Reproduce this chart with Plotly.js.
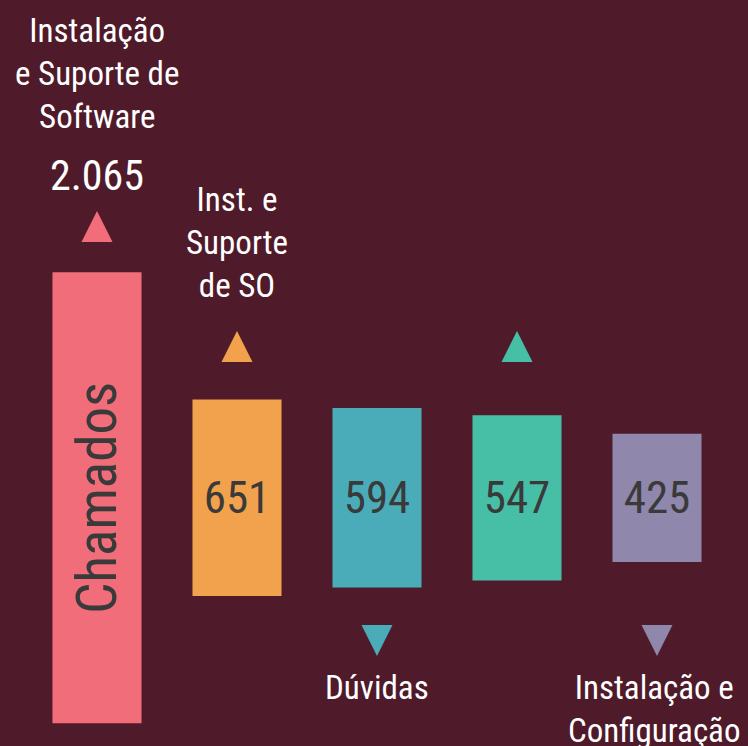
<!DOCTYPE html>
<html><head><meta charset="utf-8">
<script src="https://cdn.plot.ly/plotly-3.0.1.min.js"></script>
<style>html,body{margin:0;padding:0;background:#4f1a29}</style></head>
<body><div id="chart" style="width:748px;height:746px"></div>
<script>
// ---- data ----
const categories = ['Instalação e Suporte de Software', 'Inst. e Suporte de SO', 'Dúvidas', '', 'Instalação e Configuração'];
const labels = ['Instalação<br>e Suporte de<br>Software', 'Inst. e<br>Suporte<br>de SO', 'Dúvidas', '', 'Instalação e<br>Configuração'];
const values = [2065, 651, 594, 547, 425];
const barTexts = ['Chamados', '651', '594', '547', '425'];
const totalLabel = '2.065';
const directions = ['up', 'up', 'down', 'up', 'down'];
const colors = ['#f16d79', '#f2a24d', '#4aacb9', '#47bfa7', '#8f87ac'];

// ---- layout constants (pixels) ----
const W = 748, H = 746;
const CENTER_PX = 497.8;           // vertical centre of all bars
const PX_PER_UNIT = 0.302;          // scale of the small bars
const PX_PER_UNIT_MAIN = 451 / 2065; // scale of the big first bar
const FONT = '"Roboto Condensed", Roboto, sans-serif';
const TXT = '#ffffff', DARK = '#3a3a3a';

const yRange = [-(H - CENTER_PX) / PX_PER_UNIT, CENTER_PX / PX_PER_UNIT];
const y2Range = [-(H - CENTER_PX) / PX_PER_UNIT_MAIN, CENTER_PX / PX_PER_UNIT_MAIN];
const pxToY = px => (CENTER_PX - px) / PX_PER_UNIT;
const pxToPaper = px => 1 - px / H;

const idx = values.map((_, i) => i);

const bigBar = {
  type: 'bar', x: [0], y: [values[0]], base: [-values[0] / 2], yaxis: 'y2',
  width: 0.636, marker: {color: colors[0]},
  text: [barTexts[0]], textposition: 'inside', insidetextanchor: 'middle', textangle: -90,
  constraintext: 'none', textfont: {family: FONT, size: 55, color: DARK},
  hoverinfo: 'skip', showlegend: false
};
const smallBars = {
  type: 'bar', x: idx.slice(1), y: values.slice(1), base: values.slice(1).map(v => -v / 2),
  width: 0.636, marker: {color: colors.slice(1)},
  text: barTexts.slice(1), textposition: 'inside', insidetextanchor: 'middle', textangle: 0,
  constraintext: 'none', textfont: {family: FONT, size: 45, color: DARK},
  hoverinfo: 'skip', showlegend: false
};
// triangle tips (pixel rows)
const tipPx = i => directions[i] === 'down' ? 656 : (i === 0 ? 211 : 331);
const arrows = {
  type: 'scatter', mode: 'markers', x: idx, y: idx.map(i => pxToY(tipPx(i))),
  marker: {symbol: directions.map(d => 'arrow-' + d), size: 31, color: colors, line: {width: 0}},
  hoverinfo: 'skip', showlegend: false, cliponaxis: false
};

const annotations = [];
// label block centres (pixel rows)
const labelCenterPx = [74, 242, 687, 0, 708.5];
labels.forEach((t, i) => {
  if (!t) return;
  annotations.push({x: i, xref: 'x', y: pxToPaper(labelCenterPx[i]), yref: 'paper', yanchor: 'middle',
    xanchor: 'center', text: t, showarrow: false, xshift: i === 4 ? -3 : 0,
    font: {family: FONT, size: 33, color: TXT}, align: 'center'});
});
annotations.push({x: 0, xref: 'x', y: pxToPaper(176), yref: 'paper', yanchor: 'middle', xanchor: 'center',
  text: totalLabel, showarrow: false, font: {family: FONT, size: 42, color: TXT}});

const layout = {
  width: W, height: H, margin: {l: 27, r: 21, t: 0, b: 0, pad: 0},
  paper_bgcolor: '#4f1a29', plot_bgcolor: '#4f1a29',
  xaxis: {range: [-0.5, 4.5], visible: false, fixedrange: true},
  yaxis: {range: yRange, visible: false, fixedrange: true},
  yaxis2: {range: y2Range, visible: false, overlaying: 'y', fixedrange: true},
  barmode: 'overlay', showlegend: false, annotations: annotations
};
Plotly.newPlot('chart', [bigBar, smallBars, arrows], layout, {displayModeBar: false, staticPlot: true});
</script></body></html>
